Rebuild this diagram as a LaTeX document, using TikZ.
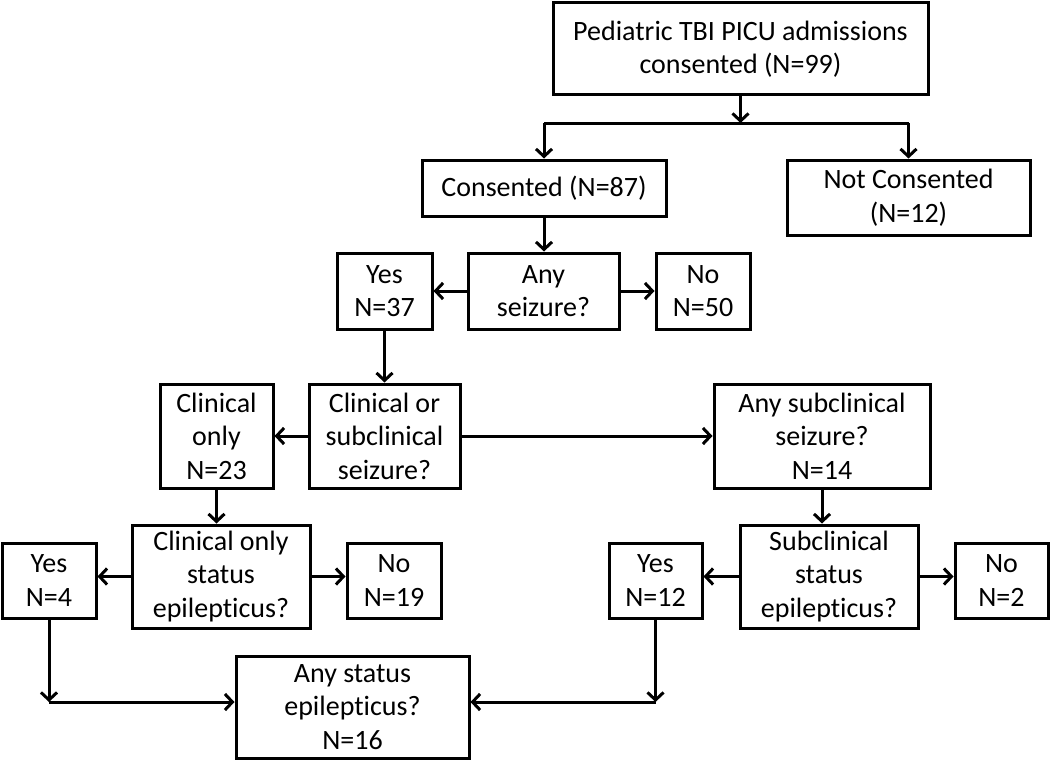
\documentclass[tikz,border=0pt]{standalone}
\usepackage{fontspec}
\setmainfont{Carlito}[Ligatures=NoCommon]
\usetikzlibrary{arrows.meta,calc}
\tikzset{
  box/.style={draw=black, line width=3pt, fill=white, inner sep=0pt, align=center,
    font=\fontsize{28}{33.5}\selectfont},
  conn/.style={line width=3pt, -{Straight Barb[length=7.5pt,width=16pt]}},
  plain/.style={line width=3pt}
}
\begin{document}
\begin{tikzpicture}[x=1pt,y=-1pt]
\useasboundingbox (0,0) rectangle (1050,760);
% nodes
\node[box, minimum width=375pt, minimum height=92pt] (top) at (740.5,49) {Pediatric TBI PICU admissions\\consented (N=99)};
\node[box, minimum width=244pt, minimum height=56pt] (cons) at (544,188) {Consented (N=87)};
\node[box, minimum width=243pt, minimum height=75pt] (notcons) at (908.5,197.5) {Not Consented\\(N=12)};
\node[box, minimum width=95pt, minimum height=76pt] (yes37) at (384.5,291) {Yes\\N=37};
\node[box, minimum width=151pt, minimum height=76pt] (anysz) at (543.5,291) {Any\\seizure?};
\node[box, minimum width=94pt, minimum height=76pt] (no50) at (703,291) {No\\N=50};
\node[box, minimum width=113pt, minimum height=104pt] (clinonly) at (216.5,436) {Clinical\\only\\N=23};
\node[box, minimum width=151pt, minimum height=104pt] (clinsub) at (384.5,436) {Clinical or\\subclinical\\seizure?};
\node[box, minimum width=216pt, minimum height=104pt] (anysub) at (822,436) {Any subclinical\\seizure?\\N=14};
\node[box, minimum width=94pt, minimum height=75pt] (yes4) at (49,580.5) {Yes\\N=4};
\node[box, minimum width=178pt, minimum height=103pt] (clinstat) at (221,576.5) {Clinical only\\status\\epilepticus?};
\node[box, minimum width=94pt, minimum height=75pt] (no19) at (394,580.5) {No\\N=19};
\node[box, minimum width=93pt, minimum height=75pt] (yes12) at (655.5,580.5) {Yes\\N=12};
\node[box, minimum width=178pt, minimum height=103pt] (subsstat) at (829,576.5) {Subclinical\\status\\epilepticus?};
\node[box, minimum width=93pt, minimum height=75pt] (no2) at (1001.5,580.5) {No\\N=2};
\node[box, minimum width=233pt, minimum height=102pt] (anystat) at (352.5,707) {Any status\\epilepticus?\\N=16};
% junction coordinates
\coordinate (hM) at (740.5,123);
\coordinate (hL) at (544,123);
\coordinate (hR) at (908.5,123);
\coordinate (c4) at (49,702);
\coordinate (c12) at (655.5,702);
% connectors
\draw[conn] (top.south) -- (hM);
\draw[plain] (hL) -- (hR);
\draw[conn] (hL) -- (cons.north);
\draw[conn] (hR) -- (notcons.north);
\draw[conn] (cons.south) -- (cons.south |- anysz.north);
\draw[conn] (anysz.west) -- (yes37.east);
\draw[conn] (anysz.east) -- (no50.west);
\draw[conn] (yes37.south) -- (yes37.south |- clinsub.north);
\draw[conn] (clinsub.west) -- (clinonly.east);
\draw[conn] (clinsub.east) -- (anysub.west);
\draw[conn] (clinonly.south) -- (clinonly.south |- clinstat.north);
\draw[conn] (clinstat.west) -- (yes4.east |- clinstat.west);
\draw[conn] (clinstat.east) -- (no19.west |- clinstat.east);
\draw[conn] (anysub.south) -- (anysub.south |- subsstat.north);
\draw[conn] (subsstat.west) -- (yes12.east |- subsstat.west);
\draw[conn] (subsstat.east) -- (no2.west |- subsstat.east);
\draw[conn] (yes4.south) -- (c4);
\draw[conn] (c4) -- (c4 -| anystat.west);
\draw[conn] (yes12.south) -- (c12);
\draw[conn] (c12) -- (c12 -| anystat.east);
\end{tikzpicture}
\end{document}
